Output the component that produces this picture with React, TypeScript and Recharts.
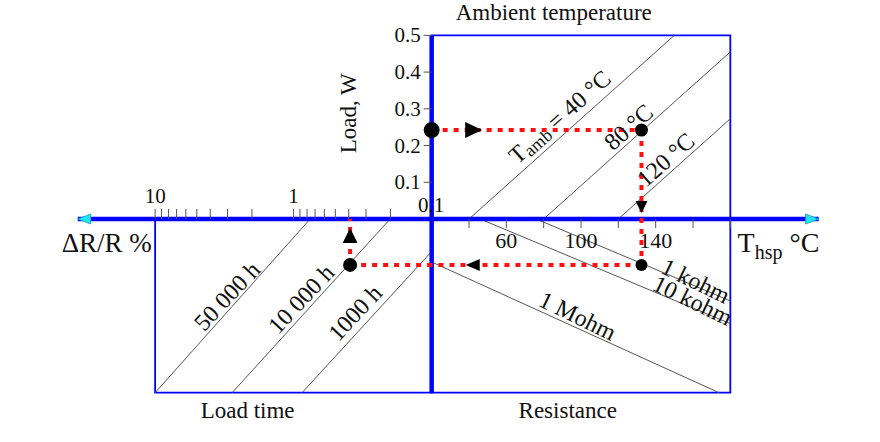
import React from "react";
import {
  ComposedChart,
  Line,
  XAxis,
  YAxis,
  ReferenceArea,
  ReferenceLine,
  ReferenceDot,
} from "recharts";

// scales: hot-spot temperature (°C), resistance drift (ΔR/R %, log), load (W)
const loadTicks = [0.1, 0.2, 0.3, 0.4, 0.5];
const hspTicks = [40, 60, 80, 100, 120, 140, 160, 180];
const hspLabels = [60, 100, 140];
const driftTicks = [10, 9, 8, 7, 6, 5, 4, 3, 2, 1, 0.9, 0.8, 0.7, 0.6, 0.5, 0.4, 0.3, 0.2];
const driftLabels = [10, 1, 0.1];

// ambient temperature lines (upper right)
const amb40 = [{ t: 40, w: 0 }, { t: 150, w: 0.5 }];
const amb80 = [{ t: 80, w: 0 }, { t: 180, w: 0.455 }];
const amb120 = [{ t: 120, w: 0 }, { t: 180, w: 0.273 }];

// resistance lines (lower right)
const res1k = [{ t: 76, w: 0 }, { t: 180, w: -0.223 }];
const res10k = [{ t: 46, w: 0 }, { t: 180, w: -0.285 }];
const res1M = [{ t: 20, w: -0.117 }, { t: 174, w: -0.473 }];

// load time lines (lower left)
const h50000 = [{ r: 10, w: -0.473 }, { r: 0.76, w: 0 }];
const h10000 = [{ r: 2.78, w: -0.473 }, { r: 0.201, w: 0 }];
const h1000 = [{ r: 0.869, w: -0.473 }, { r: 0.1, w: -0.087 }];

// worked example
const exLoad = 0.242;
const exHsp = 132.4;
const exLevel = -0.125;
const exDrift = 0.391;

// panel extents
const T_LEFT = 20;
const T_RIGHT = 180;
const W_TOP = 0.5;
const W_BOTTOM = -0.473;
const AXIS_ENDS = [-169.6, 227.3];

const BLUE = "#0000ff";
const GREY = "#555";
const RED = "#ff1010";
const SERIF = "'Liberation Serif', 'Times New Roman', serif";

type P = { cx?: number; cy?: number };

function note(
  content: React.ReactNode,
  { angle = 0, size = 21, anchor = "middle", central = true }: { angle?: number; size?: number; anchor?: string; central?: boolean } = {}
) {
  return ({ cx = 0, cy = 0 }: P) => (
    <text
      x={cx}
      y={cy}
      fontFamily={SERIF}
      fontSize={size}
      fill="#111"
      textAnchor={anchor as any}
      dominantBaseline={central ? "central" : "alphabetic"}
      transform={angle ? `rotate(${angle} ${cx} ${cy})` : undefined}
    >
      {content}
    </text>
  );
}

function tri(dir: string, w: number, h: number, fill = "#000", stroke = "none") {
  return ({ cx = 0, cy = 0 }: P) => {
    let pts = "";
    if (dir === "right") pts = `${cx - w / 2},${cy - h / 2} ${cx + w / 2},${cy} ${cx - w / 2},${cy + h / 2}`;
    if (dir === "left") pts = `${cx + w / 2},${cy - h / 2} ${cx - w / 2},${cy} ${cx + w / 2},${cy + h / 2}`;
    if (dir === "up") pts = `${cx - w / 2},${cy + h / 2} ${cx},${cy - h / 2} ${cx + w / 2},${cy + h / 2}`;
    if (dir === "down") pts = `${cx - w / 2},${cy - h / 2} ${cx},${cy + h / 2} ${cx + w / 2},${cy - h / 2}`;
    return <polygon points={pts} fill={fill} stroke={stroke} strokeWidth={1} />;
  };
}

// arrowhead whose tip sits on the anchor point
function tipArrow(dir: string) {
  return ({ cx = 0, cy = 0 }: P) => {
    const d = dir === "left" ? 1 : -1;
    const pts = `${cx},${cy} ${cx + d * 13},${cy - 5} ${cx + d * 13},${cy + 5}`;
    return <polygon points={pts} fill="#22e4f2" stroke="#10a0c0" strokeWidth={0.8} />;
  };
}

const lineProps = { dataKey: "w", dot: false, activeDot: false, isAnimationActive: false } as const;

export default function App() {
  return (
    <div style={{ position: "absolute", left: 0, top: 0, width: 880, height: 442, background: "#fff" }}>
      <ComposedChart width={880} height={442} margin={{ top: 17, right: 19, bottom: 21, left: 21 }}>
        <XAxis xAxisId="hsp" dataKey="t" type="number" domain={[-200, 250]} allowDataOverflow hide />
        <XAxis xAxisId="drift" dataKey="r" type="number" scale="log" domain={[8e-5, 93]} reversed allowDataOverflow hide />
        <YAxis type="number" domain={[-0.55, 0.55]} allowDataOverflow hide />

        {/* panels */}
        <ReferenceArea xAxisId="hsp" x1={T_LEFT} x2={T_RIGHT} y1={0} y2={W_TOP} fill="none" stroke={BLUE} strokeWidth={1.8} />
        <ReferenceArea xAxisId="hsp" x1={T_LEFT} x2={T_RIGHT} y1={W_BOTTOM} y2={0} fill="none" stroke={BLUE} strokeWidth={1.8} />
        <ReferenceArea xAxisId="drift" x1={10} x2={0.1} y1={W_BOTTOM} y2={0} fill="none" stroke={BLUE} strokeWidth={1.8} />

        {/* nomogram lines */}
        <Line xAxisId="hsp" data={amb40} stroke={GREY} strokeWidth={1} {...lineProps} />
        <Line xAxisId="hsp" data={amb80} stroke={GREY} strokeWidth={1} {...lineProps} />
        <Line xAxisId="hsp" data={amb120} stroke={GREY} strokeWidth={1} {...lineProps} />
        <Line xAxisId="hsp" data={res1k} stroke={GREY} strokeWidth={1} {...lineProps} />
        <Line xAxisId="hsp" data={res10k} stroke={GREY} strokeWidth={1} {...lineProps} />
        <Line xAxisId="hsp" data={res1M} stroke={GREY} strokeWidth={1} {...lineProps} />
        <Line xAxisId="drift" data={h50000} stroke={GREY} strokeWidth={1} {...lineProps} />
        <Line xAxisId="drift" data={h10000} stroke={GREY} strokeWidth={1} {...lineProps} />
        <Line xAxisId="drift" data={h1000} stroke={GREY} strokeWidth={1} {...lineProps} />

        {/* main axes */}
        <ReferenceLine xAxisId="hsp" segment={[{ x: AXIS_ENDS[0], y: 0 }, { x: AXIS_ENDS[1], y: 0 }]} stroke={BLUE} strokeWidth={4.5} ifOverflow="visible" />
        <ReferenceLine xAxisId="hsp" segment={[{ x: T_LEFT, y: W_BOTTOM }, { x: T_LEFT, y: W_TOP }]} stroke={BLUE} strokeWidth={4.5} ifOverflow="visible" />
        <ReferenceDot xAxisId="hsp" x={AXIS_ENDS[0]} y={0} r={0} ifOverflow="visible" shape={tipArrow("left")} />
        <ReferenceDot xAxisId="hsp" x={AXIS_ENDS[1]} y={0} r={0} ifOverflow="visible" shape={tipArrow("right")} />

        {/* ticks */}
        {loadTicks.map((v) => (
          <ReferenceDot
            key={`l${v}`}
            xAxisId="hsp"
            x={T_LEFT}
            y={v}
            r={0}
            ifOverflow="visible"
            shape={({ cx = 0, cy = 0 }: P) => (
              <g>
                <line x1={cx - 8} x2={cx} y1={cy} y2={cy} stroke={GREY} strokeWidth={1} />
                <text x={cx - 11} y={cy} textAnchor="end" dominantBaseline="central" fontFamily={SERIF} fontSize={21} fill="#111">
                  {v.toFixed(1)}
                </text>
              </g>
            )}
          />
        ))}
        {hspTicks.map((v) => (
          <ReferenceDot
            key={`t${v}`}
            xAxisId="hsp"
            x={v}
            y={0}
            r={0}
            ifOverflow="visible"
            shape={({ cx = 0, cy = 0 }: P) => (
              <g>
                <line x1={cx} x2={cx} y1={cy} y2={cy + 9} stroke={GREY} strokeWidth={1} />
                {hspLabels.includes(v) && (
                  <text x={cx} y={cy + 29} textAnchor="middle" fontFamily={SERIF} fontSize={22} fill="#111">
                    {v}
                  </text>
                )}
              </g>
            )}
          />
        ))}
        {driftTicks.map((v) => (
          <ReferenceDot
            key={`d${v}`}
            xAxisId="drift"
            x={v}
            y={0}
            r={0}
            ifOverflow="visible"
            shape={({ cx = 0, cy = 0 }: P) => (
              <line x1={cx} x2={cx} y1={cy - 10} y2={cy} stroke={GREY} strokeWidth={1} />
            )}
          />
        ))}
        {driftLabels.map((v) => (
          <ReferenceDot
            key={`dl${v}`}
            xAxisId="drift"
            x={v}
            y={0}
            r={0}
            ifOverflow="visible"
            shape={({ cx = 0, cy = 0 }: P) => (
              <text x={cx - (v < 1 ? 1 : 0)} y={cy - (v < 1 ? 7 : 16)} textAnchor="middle" fontFamily={SERIF} fontSize={21} fill="#111">
                {v}
              </text>
            )}
          />
        ))}

        {/* worked example path */}
        <Line xAxisId="hsp" data={[{ t: T_LEFT, w: exLoad }, { t: exHsp, w: exLoad }]} stroke={RED} strokeWidth={4} strokeDasharray="5 6" {...lineProps} />
        <Line xAxisId="hsp" data={[{ t: exHsp, w: exLoad }, { t: exHsp, w: exLevel }]} stroke={RED} strokeWidth={4} strokeDasharray="5 6" {...lineProps} />
        <Line xAxisId="hsp" data={[{ t: exHsp, w: exLevel }, { t: T_LEFT, w: exLevel }]} stroke={RED} strokeWidth={4} strokeDasharray="5 6" {...lineProps} />
        <Line xAxisId="drift" data={[{ r: 0.1, w: exLevel }, { r: exDrift, w: exLevel }]} stroke={RED} strokeWidth={4} strokeDasharray="5 6" {...lineProps} />
        <Line xAxisId="drift" data={[{ r: exDrift, w: exLevel }, { r: exDrift, w: 0 }]} stroke={RED} strokeWidth={4} strokeDasharray="5 6" {...lineProps} />

        <ReferenceDot xAxisId="hsp" x={42.5} y={exLoad} r={0} ifOverflow="visible" shape={tri("right", 17, 16)} />
        <ReferenceDot xAxisId="hsp" x={exHsp} y={0.033} r={0} ifOverflow="visible" shape={tri("down", 12, 12)} />
        <ReferenceDot xAxisId="hsp" x={42} y={exLevel} r={0} ifOverflow="visible" shape={tri("left", 14, 12)} />
        <ReferenceDot xAxisId="drift" x={exDrift} y={-0.045} r={0} ifOverflow="visible" shape={tri("up", 15, 15)} />

        <ReferenceDot xAxisId="hsp" x={T_LEFT} y={exLoad} r={8} fill="#000" stroke="none" ifOverflow="visible" />
        <ReferenceDot xAxisId="hsp" x={exHsp} y={exLoad} r={6.5} fill="#000" stroke="none" ifOverflow="visible" />
        <ReferenceDot xAxisId="hsp" x={exHsp} y={exLevel} r={6} fill="#000" stroke="none" ifOverflow="visible" />
        <ReferenceDot xAxisId="drift" x={exDrift} y={exLevel} r={7} fill="#000" stroke="none" ifOverflow="visible" />

        {/* line labels */}
        <ReferenceDot
          xAxisId="hsp" x={88.6} y={0.278} r={0} ifOverflow="visible"
          shape={note(
            <>
              <tspan>T</tspan>
              <tspan fontSize={18} dy={5}>amb</tspan>
              <tspan dy={-5}> = 40 °C</tspan>
            </>,
            { angle: -41.5, size: 24 }
          )}
        />
        <ReferenceDot xAxisId="hsp" x={125.5} y={0.25} r={0} ifOverflow="visible" shape={note("80 °C", { angle: -41.5, size: 24 })} />
        <ReferenceDot xAxisId="hsp" x={145.4} y={0.161} r={0} ifOverflow="visible" shape={note("120 °C", { angle: -41.5, size: 24 })} />
        <ReferenceDot xAxisId="hsp" x={161.4} y={-0.169} r={0} ifOverflow="visible" shape={note("1 kohm", { angle: 26, size: 24 })} />
        <ReferenceDot xAxisId="hsp" x={159.8} y={-0.222} r={0} ifOverflow="visible" shape={note("10 kohm", { angle: 26, size: 24 })} />
        <ReferenceDot xAxisId="hsp" x={98.2} y={-0.264} r={0} ifOverflow="visible" shape={note("1 Mohm", { angle: 26, size: 24 })} />
        <ReferenceDot xAxisId="drift" x={3.02} y={-0.21} r={0} ifOverflow="visible" shape={note("50 000 h", { angle: -47, size: 24 })} />
        <ReferenceDot xAxisId="drift" x={0.883} y={-0.218} r={0} ifOverflow="visible" shape={note("10 000 h", { angle: -47, size: 24 })} />
        <ReferenceDot xAxisId="drift" x={0.36} y={-0.256} r={0} ifOverflow="visible" shape={note("1000 h", { angle: -47, size: 24 })} />

        {/* titles */}
        <ReferenceDot xAxisId="hsp" x={85.4} y={0.542} r={0} ifOverflow="visible" shape={note("Ambient temperature", { size: 23, central: false })} />
        <ReferenceDot xAxisId="hsp" x={-24.5} y={0.288} r={0} ifOverflow="visible" shape={note("Load, W", { angle: -90, size: 23 })} />
        <ReferenceDot xAxisId="hsp" x={-178.2} y={-0.09} r={0} ifOverflow="visible" shape={note("ΔR/R %", { size: 27, anchor: "start", central: false })} />
        <ReferenceDot
          xAxisId="hsp" x={183.9} y={-0.09} r={0} ifOverflow="visible"
          shape={note(
            <>
              <tspan>T</tspan>
              <tspan fontSize={20} dy={7}>hsp</tspan>
              <tspan dy={-7}> °C</tspan>
            </>,
            { size: 28, anchor: "start", central: false }
          )}
        />
        <ReferenceDot xAxisId="hsp" x={-78.6} y={-0.542} r={0} ifOverflow="visible" shape={note("Load time", { size: 23, central: false })} />
        <ReferenceDot xAxisId="hsp" x={92.9} y={-0.542} r={0} ifOverflow="visible" shape={note("Resistance", { size: 23, central: false })} />
      </ComposedChart>
    </div>
  );
}
